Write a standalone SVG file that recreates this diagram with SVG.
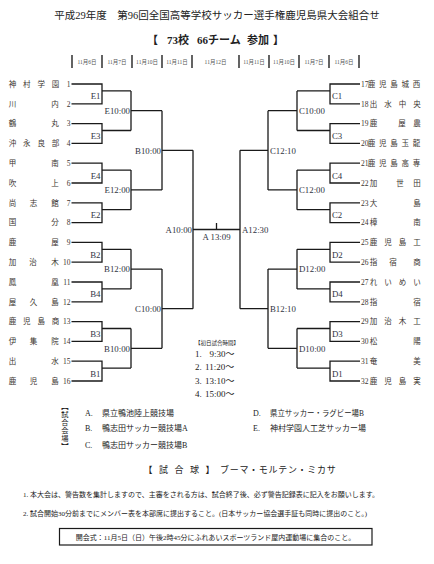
<svg xmlns="http://www.w3.org/2000/svg" width="434" height="564" viewBox="0 0 434 564">
<style>
.t{font-family:"Liberation Serif","Noto Sans CJK JP",serif;fill:#222}
.nm{font-family:"Liberation Serif","Noto Sans CJK JP",serif;font-size:7.5px;fill:#3b3530;text-anchor:middle}
.nl{font-family:"Liberation Serif",serif;font-size:7.5px;fill:#3b3530;text-anchor:end}
.nr{font-family:"Liberation Serif",serif;font-size:7.5px;fill:#3b3530}
.lb{font-family:"Liberation Serif",serif;font-size:8.8px;fill:#2f3442}
.le{text-anchor:end}
.dh{font-family:"Liberation Serif","Noto Sans CJK JP",serif;font-size:5.5px;fill:#555;text-anchor:middle}
.vt{font-family:"Noto Sans CJK JP",sans-serif;font-size:7.3px;fill:#222;text-anchor:middle}
.ln{fill:none;stroke:#1a1a1a;stroke-width:1.3}
.bar{stroke:#222;stroke-width:1.4}
</style>
<rect width="434" height="564" fill="#fff"/>

<g id="header">
<text class="t" x="217" y="19" font-size="10.5" text-anchor="middle">平成29年度　第96回全国高等学校サッカー選手権鹿児島県大会組合せ</text>
<text class="t" y="44" font-size="11" font-weight="bold"><tspan x="147">【</tspan><tspan x="167">73校</tspan><tspan x="197">66チーム</tspan><tspan x="247">参加</tspan><tspan x="273">】</tspan></text>
<g id="dates">
<line class="bar" x1="72" y1="55" x2="72" y2="68"/><line class="bar" x1="102" y1="55" x2="102" y2="68"/><line class="bar" x1="132" y1="55" x2="132" y2="68"/><line class="bar" x1="162" y1="55" x2="162" y2="68"/><line class="bar" x1="192" y1="55" x2="192" y2="68"/>
<line class="bar" x1="239" y1="55" x2="239" y2="68"/><line class="bar" x1="269" y1="55" x2="269" y2="68"/><line class="bar" x1="299" y1="55" x2="299" y2="68"/><line class="bar" x1="329" y1="55" x2="329" y2="68"/><line class="bar" x1="359" y1="55" x2="359" y2="68"/>
<text class="dh" x="87" y="63.5">11月6日</text><text class="dh" x="117" y="63.5">11月7日</text><text class="dh" x="147" y="63.5">11月10日</text><text class="dh" x="177" y="63.5">11月11日</text><text class="dh" x="215.5" y="63.5">11月12日</text>
<text class="dh" x="254" y="63.5">11月11日</text><text class="dh" x="284" y="63.5">11月10日</text><text class="dh" x="314" y="63.5">11月7日</text><text class="dh" x="344" y="63.5">11月6日</text>
</g>
</g>

<g id="connectors">
<path class="ln" d="M71.5,84H102V103.8H71.5M102,90.9H131
M71.5,123.6H102V143.4H71.5M102,130.5H131
M71.5,163.2H102V183H71.5M102,170.1H131
M71.5,202.8H102V222.6H71.5M102,209.7H131
M71.5,242.4H102V262.2H71.5M102,249.3H131
M71.5,282H102V301.8H71.5M102,288.9H131
M71.5,321.6H102V341.4H71.5M102,328.5H131
M71.5,361.2H102V381H71.5M102,368.1H131
M131,90.9V130.5M131,110.7H162
M131,170.1V209.7M131,189.9H162
M131,249.3V288.9M131,269.1H162
M131,328.5V368.1M131,348.3H162
M162,110.7V189.9M162,150.3H193
M162,269.1V348.3M162,308.7H193
M193,150.3V308.7
M193,229.5H240M216.5,223V229.5
M240,150.3V308.7
M268,110.7V189.9M268,150.3H240
M268,269.1V348.3M268,308.7H240
M297,90.9V130.5M297,110.7H268
M297,170.1V209.7M297,189.9H268
M297,249.3V288.9M297,269.1H268
M297,328.5V368.1M297,348.3H268
M360,84H330V103.8H360M330,90.9H297
M360,123.6H330V143.4H360M330,130.5H297
M360,163.2H330V183H360M330,170.1H297
M360,202.8H330V222.6H360M330,209.7H297
M360,242.4H330V262.2H360M330,249.3H297
M360,282H330V301.8H360M330,288.9H297
M360,321.6H330V341.4H360M330,328.5H297
M360,361.2H330V381H360M330,368.1H297"/>
</g>

<g id="teams-left">
<g id="t1"><text class="nm" x="12.5 26.8 41.2 55.5" y="86.7">神村学園</text><text class="nl" x="70.5" y="86.7">1</text></g>
<g id="t2"><text class="nm" x="12.5 55" y="106.5">川内</text><text class="nl" x="70.5" y="106.5">2</text></g>
<g id="t3"><text class="nm" x="12.5 55" y="126.3">鶴丸</text><text class="nl" x="70.5" y="126.3">3</text></g>
<g id="t4"><text class="nm" x="12.5 26.8 41.2 55.5" y="146.1">沖永良部</text><text class="nl" x="70.5" y="146.1">4</text></g>
<g id="t5"><text class="nm" x="12.5 55" y="165.9">甲南</text><text class="nl" x="70.5" y="165.9">5</text></g>
<g id="t6"><text class="nm" x="12.5 55" y="185.7">吹上</text><text class="nl" x="70.5" y="185.7">6</text></g>
<g id="t7"><text class="nm" x="12.5 33.5 55" y="205.5">尚志館</text><text class="nl" x="70.5" y="205.5">7</text></g>
<g id="t8"><text class="nm" x="12.5 55" y="225.3">国分</text><text class="nl" x="70.5" y="225.3">8</text></g>
<g id="t9"><text class="nm" x="12.5 55" y="245.1">鹿屋</text><text class="nl" x="70.5" y="245.1">9</text></g>
<g id="t10"><text class="nm" x="12.5 33 55" y="264.9">加治木</text><text class="nl" x="70.5" y="264.9">10</text></g>
<g id="t11"><text class="nm" x="12.5 55" y="284.7">鳳凰</text><text class="nl" x="70.5" y="284.7">11</text></g>
<g id="t12"><text class="nm" x="12.5 33.5 55" y="304.5">屋久島</text><text class="nl" x="70.5" y="304.5">12</text></g>
<g id="t13"><text class="nm" x="12.5 26.8 41.2 55.5" y="324.3">鹿児島商</text><text class="nl" x="70.5" y="324.3">13</text></g>
<g id="t14"><text class="nm" x="12.5 33.5 55" y="344.1">伊集院</text><text class="nl" x="70.5" y="344.1">14</text></g>
<g id="t15"><text class="nm" x="12.5 55" y="363.9">出水</text><text class="nl" x="70.5" y="363.9">15</text></g>
<g id="t16"><text class="nm" x="12.5 33.5 55" y="383.7">鹿児島</text><text class="nl" x="70.5" y="383.7">16</text></g>
</g>

<g id="teams-right">
<g id="t17"><text class="nr" x="361" y="86.7">17</text><text class="nm" x="371.5 382.8 394 405.3 416.5" y="86.7">鹿児島城西</text></g>
<g id="t18"><text class="nr" x="361" y="106.5">18</text><text class="nm" x="373.5 388 402.5 417" y="106.5">出水中央</text></g>
<g id="t19"><text class="nr" x="361" y="126.3">19</text><text class="nm" x="373.5 402 417" y="126.3">鹿屋農</text></g>
<g id="t20"><text class="nr" x="361" y="146.1">20</text><text class="nm" x="371.5 382.8 394 405.3 416.5" y="146.1">鹿児島玉龍</text></g>
<g id="t21"><text class="nr" x="361" y="165.9">21</text><text class="nm" x="371.5 382.8 394 405.3 416.5" y="165.9">鹿児島高専</text></g>
<g id="t22"><text class="nr" x="361" y="185.7">22</text><text class="nm" x="373.5 400 417" y="185.7">加世田</text></g>
<g id="t23"><text class="nr" x="361" y="205.5">23</text><text class="nm" x="373.5 417" y="205.5">大島</text></g>
<g id="t24"><text class="nr" x="361" y="225.3">24</text><text class="nm" x="373.5 417" y="225.3">樟南</text></g>
<g id="t25"><text class="nr" x="361" y="245.1">25</text><text class="nm" x="373.5 388 402.5 417" y="245.1">鹿児島工</text></g>
<g id="t26"><text class="nr" x="361" y="264.9">26</text><text class="nm" x="373.5 393 417" y="264.9">指宿商</text></g>
<g id="t27"><text class="nr" x="361" y="284.7">27</text><text class="nm" x="373.5 388 402.5 417" y="284.7">れいめい</text></g>
<g id="t28"><text class="nr" x="361" y="304.5">28</text><text class="nm" x="373.5 417" y="304.5">指宿</text></g>
<g id="t29"><text class="nr" x="361" y="324.3">29</text><text class="nm" x="373.5 388 402.5 417" y="324.3">加治木工</text></g>
<g id="t30"><text class="nr" x="361" y="344.1">30</text><text class="nm" x="373.5 417" y="344.1">松陽</text></g>
<g id="t31"><text class="nr" x="361" y="363.9">31</text><text class="nm" x="373.5 417" y="363.9">奄美</text></g>
<g id="t32"><text class="nr" x="361" y="383.7">32</text><text class="nm" x="373.5 388 402.5 417" y="383.7">鹿児島実</text></g>
</g>

<g id="matches-left">
<text class="lb le" x="100.5" y="99.4">E1</text>
<text class="lb le" x="100.5" y="139">E3</text>
<text class="lb le" x="100.5" y="178.6">E4</text>
<text class="lb le" x="100.5" y="218.2">E2</text>
<text class="lb le" x="100.5" y="257.8">B2</text>
<text class="lb le" x="100.5" y="297.4">B4</text>
<text class="lb le" x="100.5" y="337">B3</text>
<text class="lb le" x="100.5" y="376.6">B1</text>
<text class="lb le" x="130" y="113.9">E10:00</text>
<text class="lb le" x="130" y="193.1">E12:00</text>
<text class="lb le" x="130" y="272.3">B12:00</text>
<text class="lb le" x="130" y="351.5">B10:00</text>
<text class="lb le" x="161" y="153.5">B10:00</text>
<text class="lb le" x="161" y="311.9">C10:00</text>
<text class="lb le" x="192" y="232.7">A10:00</text>
</g>

<g id="final">
<text class="lb" x="216.5" y="239.5" text-anchor="middle">A 13:09</text>
</g>

<g id="matches-right">
<text class="lb" x="332" y="99.4">C1</text>
<text class="lb" x="332" y="139">C3</text>
<text class="lb" x="332" y="178.6">C4</text>
<text class="lb" x="332" y="218.2">C2</text>
<text class="lb" x="332" y="257.8">D2</text>
<text class="lb" x="332" y="297.4">D4</text>
<text class="lb" x="332" y="337">D3</text>
<text class="lb" x="332" y="376.6">D1</text>
<text class="lb" x="299" y="113.9">C10:00</text>
<text class="lb" x="299" y="193.1">C12:00</text>
<text class="lb" x="299" y="272.3">D12:00</text>
<text class="lb" x="299" y="351.5">D10:00</text>
<text class="lb" x="270" y="153.5">C12:10</text>
<text class="lb" x="270" y="311.9">B12:10</text>
<text class="lb" x="242" y="232.7">A12:30</text>
</g>

<g id="times">
<text class="t" x="195" y="345" font-size="5.5">【初日試合時間】</text>
<text class="t" y="356.5" font-size="9"><tspan x="195">1.</tspan><tspan x="209.5">9:30～</tspan></text>
<text class="t" y="370" font-size="9"><tspan x="195">2.</tspan><tspan x="205">11:20～</tspan></text>
<text class="t" y="383.5" font-size="9"><tspan x="195">3.</tspan><tspan x="205">13:10～</tspan></text>
<text class="t" y="397" font-size="9"><tspan x="195">4.</tspan><tspan x="205">15:00～</tspan></text>
</g>

<g id="venues">
<text class="vt" x="65 65 65 65 65 65" y="408.6 416.6 424.6 432.6 440.6 448.6">︻試合会場︼</text>
<text class="t" y="416" font-size="8"><tspan x="85">A.</tspan><tspan x="102">県立鴨池陸上競技場</tspan></text>
<text class="t" y="431" font-size="8"><tspan x="85">B.</tspan><tspan x="102">鴨志田サッカー競技場A</tspan></text>
<text class="t" y="448" font-size="8"><tspan x="85">C.</tspan><tspan x="102">鴨志田サッカー競技場B</tspan></text>
<text class="t" y="416" font-size="8"><tspan x="253">D.</tspan><tspan x="270" textLength="94" lengthAdjust="spacingAndGlyphs">県立サッカー・ラグビー場B</tspan></text>
<text class="t" y="431" font-size="8"><tspan x="253">E.</tspan><tspan x="270">神村学園人工芝サッカー場</tspan></text>
</g>

<g id="ball">
<text class="t" y="472.5" font-size="9"><tspan x="143.5" letter-spacing="6.5">【試合球】</tspan><tspan x="220" letter-spacing="0.7">ブーマ・モルテン・ミカサ</tspan></text>
</g>

<g id="notes">
<text class="t" x="23" y="496.5" font-size="7">1. 本大会は、警告数を集計しますので、主審をされる方は、試合終了後、必ず警告記録表に記入をお願いします。</text>
<text class="t" x="23" y="515.5" font-size="7">2. 試合開始30分前までにメンバー表を本部席に提出すること。(日本サッカー協会選手証も同時に提出のこと。)</text>
</g>

<g id="opening">
<rect x="59.5" y="528.5" width="312.5" height="16.5" fill="none" stroke="#1a1a1a" stroke-width="1.2"/>
<text class="t" x="215.5" y="539.5" font-size="7" text-anchor="middle">開会式：11月5日（日）午後2時45分にふれあいスポーツランド屋内運動場に集合のこと。</text>
</g>
</svg>
